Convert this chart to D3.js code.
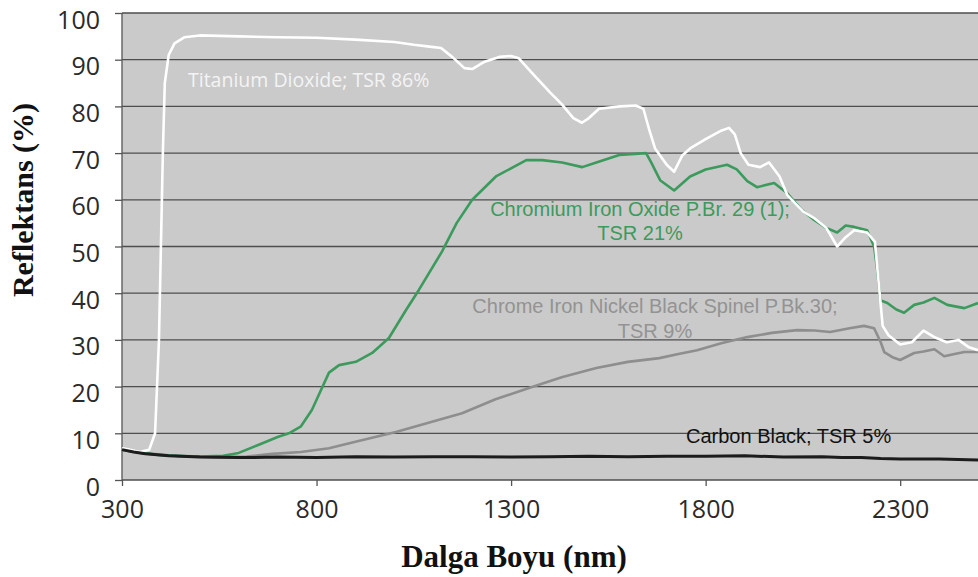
<!DOCTYPE html>
<html lang="tr">
<head>
<meta charset="UTF-8">
<title>Reflektans</title>
<script src="https://cdn.jsdelivr.net/npm/d3@7"></script>
<style>
    body { margin: 0; background: #fff; }
    .axis path { display: none; }
    .axis line { stroke: #555; stroke-width: 1.3; }
    .axis text { font-family: "Open Sans", sans-serif; font-size: 25px; fill: #2a2a2a; }
    .title { font-family: "Liberation Serif", "Times New Roman", serif; font-weight: bold; fill: #111; }
    .lbl { font-family: "Liberation Sans", Arial, sans-serif; font-size: 20px; }
</style>
</head>
<body>
<script>
// x tick labels (nm) and y ticks (%)
var xTicks = [300, 800, 1300, 1800, 2300];
var yTicks = [0, 10, 20, 30, 40, 50, 60, 70, 80, 90, 100];

// Titanium Dioxide (white)
var tio2 = [
  [300, 6.8], [320, 6.5], [345, 6.0], [370, 6.5], [385, 10], [395, 30], [400, 50],
  [405, 70], [410, 85], [420, 91], [435, 93.5], [460, 94.8], [500, 95.2], [600, 95],
  [700, 94.8], [800, 94.7], [900, 94.3], [1000, 93.8], [1050, 93.2], [1090, 92.8],
  [1120, 92.5], [1150, 90.5], [1180, 88.2], [1200, 88], [1230, 89.5], [1270, 90.6],
  [1300, 90.8], [1320, 90.3], [1350, 87.5], [1400, 83], [1430, 80.5], [1460, 77.5],
  [1482, 76.5], [1500, 77.5], [1526, 79.5], [1580, 80], [1620, 80.2], [1640, 79.5],
  [1655, 75], [1670, 71], [1700, 67.5], [1719, 66], [1740, 69.5], [1760, 71],
  [1800, 73], [1840, 74.8], [1860, 75.4], [1875, 74], [1890, 70], [1910, 67.5],
  [1940, 67], [1963, 68], [1990, 65], [2010, 61], [2050, 57.5], [2080, 56],
  [2110, 54], [2138, 50], [2160, 52], [2182, 53.5], [2215, 53], [2235, 51],
  [2245, 42], [2255, 33], [2270, 31], [2300, 29], [2330, 29.5], [2360, 32],
  [2390, 30.5], [2420, 29.5], [2450, 30], [2475, 28.5], [2500, 27.8]
];

// Chromium Iron Oxide (green)
var cio = [
  [300, 6.5], [350, 5.8], [400, 5.3], [500, 5.0], [560, 5.2], [600, 5.8], [650, 7.5],
  [700, 9.2], [729, 10], [760, 11.5], [788, 15], [810, 19], [832, 23], [858, 24.6],
  [901, 25.3], [943, 27.2], [986, 30.4], [1030, 36.4], [1063, 40.7], [1123, 49],
  [1160, 55], [1200, 60], [1261, 65], [1339, 68.5], [1380, 68.5], [1431, 68],
  [1483, 67], [1519, 68], [1578, 69.6], [1647, 70], [1660, 68], [1683, 64.2],
  [1719, 62], [1760, 65], [1800, 66.5], [1855, 67.5], [1880, 66.5], [1907, 64],
  [1932, 62.7], [1976, 63.6], [2010, 61.4], [2045, 58], [2079, 55.7], [2110, 54],
  [2138, 53], [2160, 54.5], [2182, 54.2], [2215, 53.5], [2233, 50], [2241, 45],
  [2249, 38.5], [2267, 37.9], [2290, 36.5], [2310, 35.8], [2336, 37.5], [2360, 38],
  [2388, 39], [2421, 37.5], [2465, 36.8], [2500, 37.9]
];

// Chrome Iron Nickel Black Spinel (gray)
var spinel = [
  [300, 6.5], [350, 5.8], [450, 5.1], [550, 4.9], [620, 5.0], [686, 5.6], [760, 6.0],
  [832, 6.8], [900, 8.2], [1004, 10.3], [1090, 12.3], [1174, 14.3], [1260, 17.3],
  [1346, 19.7], [1430, 22], [1519, 24], [1600, 25.3], [1681, 26.1], [1730, 27],
  [1778, 27.8], [1840, 29.3], [1907, 30.6], [1970, 31.5], [2035, 32.1], [2080, 32],
  [2120, 31.7], [2170, 32.5], [2207, 33], [2233, 32.5], [2250, 29.5], [2259, 27.4],
  [2280, 26.3], [2300, 25.7], [2336, 27.2], [2360, 27.5], [2388, 28], [2413, 26.5],
  [2440, 27], [2465, 27.4], [2500, 27.4]
];

// Carbon Black (black)
var carbon = [
  [300, 6.5], [330, 6.0], [360, 5.6], [420, 5.2], [500, 4.9], [600, 4.8], [700, 4.9],
  [800, 4.8], [900, 5.0], [1000, 4.9], [1100, 5.0], [1200, 5.0], [1300, 4.9],
  [1400, 5.0], [1500, 5.1], [1600, 5.0], [1700, 5.1], [1800, 5.1], [1900, 5.2],
  [2000, 4.9], [2100, 5.0], [2150, 4.8], [2200, 4.8], [2250, 4.6], [2300, 4.5],
  [2400, 4.5], [2500, 4.3]
];

var width = 978, height = 577;
var plot = {left: 122, right: 978, top: 13, bottom: 480};

var svg = d3.select("body").append("svg")
  .attr("width", width)
  .attr("height", height);

var x = d3.scaleLinear().domain([300, 2500]).range([plot.left, plot.right]);
var y = d3.scaleLinear().domain([0, 100]).range([plot.bottom, plot.top]);

// gri arka plan
svg.append("rect")
  .attr("x", plot.left)
  .attr("y", plot.top)
  .attr("width", plot.right - plot.left)
  .attr("height", plot.bottom - plot.top)
  .style("fill", "#cacaca");

// yatay ızgara
svg.append("g")
  .selectAll("line")
  .data(yTicks)
  .enter()
  .append("line")
  .attr("x1", plot.left)
  .attr("x2", plot.right)
  .attr("y1", function(d){ return y(d); })
  .attr("y2", function(d){ return y(d); })
  .style("stroke", "#4e4e4e")
  .style("stroke-width", 1.3);

// eksen çizgisi
svg.append("line")
  .attr("x1", plot.left).attr("x2", plot.left)
  .attr("y1", plot.top).attr("y2", plot.bottom)
  .style("stroke", "#555").style("stroke-width", 1.3);

var yAxis = d3.axisLeft(y).tickValues(yTicks).tickSize(7).tickPadding(15);
svg.append("g")
  .attr("class", "axis")
  .attr("transform", "translate(" + plot.left + ",0)")
  .call(yAxis)
  .selectAll("text")
  .attr("dy", "0.6em");

var xAxis = d3.axisBottom(x).tickValues(xTicks).tickFormat(d3.format("d"))
  .tickSize(6).tickPadding(14);
svg.append("g")
  .attr("class", "axis")
  .attr("transform", "translate(0," + plot.bottom + ")")
  .call(xAxis);

// eğriler
var line = d3.line()
  .x(function(d){ return x(d[0]); })
  .y(function(d){ return y(d[1]); });

var series = [
  {data: spinel, color: "#8e8e8e", w: 2.6},
  {data: cio, color: "#3c9a5c", w: 2.6},
  {data: tio2, color: "#ffffff", w: 2.6},
  {data: carbon, color: "#1c1c1c", w: 3}
];

svg.append("g")
  .selectAll("path")
  .data(series)
  .enter()
  .append("path")
  .attr("d", function(d){ return line(d.data); })
  .style("fill", "none")
  .style("stroke", function(d){ return d.color; })
  .style("stroke-width", function(d){ return d.w; })
  .style("stroke-linejoin", "round");

// etiketler
svg.append("text").attr("class", "lbl")
  .attr("x", 188).attr("y", 87)
  .style("font-family", "'Open Sans', sans-serif")
  .style("font-size", "19.5px")
  .style("fill", "#f4f4f4")
  .text("Titanium Dioxide; TSR 86%");

var green = svg.append("text").attr("class", "lbl")
  .attr("text-anchor", "middle").style("fill", "#3c9a5c");
green.append("tspan").attr("x", 640).attr("y", 216).text("Chromium Iron Oxide P.Br. 29 (1);");
green.append("tspan").attr("x", 640).attr("y", 240).text("TSR 21%");

var grey = svg.append("text").attr("class", "lbl")
  .attr("text-anchor", "middle").style("fill", "#939393");
grey.append("tspan").attr("x", 655).attr("y", 313).text("Chrome Iron Nickel Black Spinel P.Bk.30;");
grey.append("tspan").attr("x", 655).attr("y", 338).text("TSR 9%");

svg.append("text").attr("class", "lbl")
  .attr("x", 686).attr("y", 443)
  .style("fill", "#111")
  .text("Carbon Black; TSR 5%");

// eksen başlıkları
svg.append("text").attr("class", "title")
  .attr("text-anchor", "middle")
  .attr("transform", "translate(33,200) rotate(-90)")
  .style("font-size", "30px")
  .text("Reflektans (%)");

svg.append("text").attr("class", "title")
  .attr("text-anchor", "middle")
  .attr("x", 514).attr("y", 567)
  .style("font-size", "31px")
  .text("Dalga Boyu (nm)");
</script>
</body>
</html>
